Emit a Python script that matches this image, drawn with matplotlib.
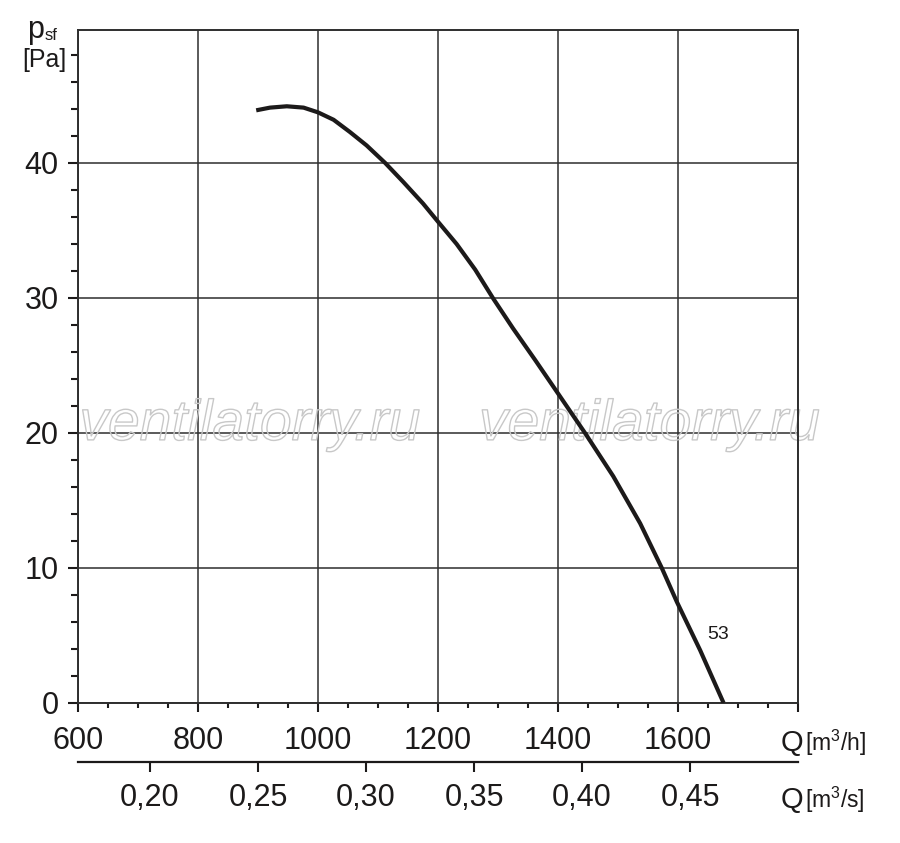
import numpy as np
import matplotlib
matplotlib.use("Agg")
import matplotlib.pyplot as plt
import matplotlib.patheffects as pe
from matplotlib.ticker import FixedLocator, FuncFormatter

plt.rcParams['font.family'] = ['Liberation Sans', 'DejaVu Sans']
plt.rcParams['mathtext.fontset'] = 'custom'
plt.rcParams['mathtext.rm'] = 'Liberation Sans'

# fan curve 53
flow_m3h = [897, 920, 948, 976, 1000, 1026, 1053, 1081, 1112, 1142, 1175, 1200,
            1231, 1262, 1292, 1325, 1362, 1398, 1425, 1445, 1492, 1537, 1573,
            1598, 1637, 1676]
pressure_pa = [43.9, 44.1, 44.2, 44.1, 43.75, 43.2, 42.3, 41.3, 40.0, 38.6, 37.0, 35.65,
               34.0, 32.1, 29.96, 27.75, 25.4, 23.06, 21.3, 20.0, 16.8, 13.3, 10.0,
               7.5, 3.9, 0.0]
curve_label = "53"
curve_label_pos = (1667, 5.1)

x_major = [600, 800, 1000, 1200, 1400, 1600, 1800]
x_labels = ["600", "800", "1000", "1200", "1400", "1600", ""]
y_major = [0, 10, 20, 30, 40]
flow_m3s_ticks = [0.20, 0.25, 0.30, 0.35, 0.40, 0.45]
watermark = "ventilatorry.ru"
watermark_x = [887, 1553]

W, H = 900, 843
INK = '#1c1a1a'
GRID = '#2e2e2e'

fig = plt.figure(figsize=(W / 100, H / 100), dpi=100)
ax = fig.add_axes([78 / W, 1 - 703 / H, 720 / W, 673 / H])

ax.set_xlim(600, 1800)
ax.set_ylim(0, 49.85)

ax.xaxis.set_major_locator(FixedLocator(x_major))
ax.set_xticklabels(x_labels)
ax.xaxis.set_minor_locator(FixedLocator(np.arange(650, 1800, 50)))
ax.yaxis.set_major_locator(FixedLocator(y_major))
ax.yaxis.set_minor_locator(FixedLocator(np.arange(2, 50, 2)))

ax.grid(which='major', color=GRID, linewidth=1.1)
ax.set_axisbelow(True)

for s in ax.spines.values():
    s.set_color(GRID)
    s.set_linewidth(1.4)

ax.tick_params(axis='both', which='both', direction='out', color=INK, width=1.5,
               labelsize=22, labelcolor=INK)
ax.tick_params(axis='x', which='major', length=6.5, pad=10)
ax.tick_params(axis='x', which='minor', length=3.6)
ax.tick_params(axis='y', which='major', length=7, pad=7)
ax.tick_params(axis='y', which='minor', length=5)

# hollow watermark
for xc in watermark_x:
    ax.text(xc, 20.6, watermark, ha='center', va='center', fontsize=41,
            style='italic', color=(1, 1, 1, 0),
            path_effects=[pe.Stroke(linewidth=1.0, foreground='#c8c8c8')], zorder=1)

ax.plot(flow_m3h, pressure_pa, color=INK, linewidth=3.0, solid_joinstyle='round',
        solid_capstyle='butt', zorder=3)
ax.text(curve_label_pos[0], curve_label_pos[1], curve_label, ha='center', va='center',
        fontsize=14, color=INK)

# second flow scale in m3/s
sec = ax.secondary_xaxis(-59 / 673, functions=(lambda q: q / 3600.0, lambda s: s * 3600.0))
sec.xaxis.set_major_locator(FixedLocator(flow_m3s_ticks))
sec.xaxis.set_major_formatter(FuncFormatter(lambda v, _: f"{v:.2f}".replace('.', ',')))
sec.tick_params(direction='out', length=7, width=1.5, color=INK, pad=8,
                labelsize=22, labelcolor=INK)
sec.spines['bottom'].set_linewidth(1.6)
sec.spines['bottom'].set_color(INK)


def ftext(px, py, s, **kw):
    fig.text(px / W, 1 - py / H, s, color=INK, **kw)


ftext(27, 38, "p", fontsize=22, va='baseline')
ftext(45, 40, "sf", fontsize=12, va='baseline')
ftext(66, 60, "[Pa]", fontsize=18, va='center', ha='right')

for py, unit in ((751, "[m$^{3}$/h]"), (808, "[m$^{3}$/s]")):
    ftext(781, py, "Q", fontsize=21, va='baseline')
    ftext(805, py, unit, fontsize=16.5, va='baseline')

fig.savefig("out.png", dpi=100)
